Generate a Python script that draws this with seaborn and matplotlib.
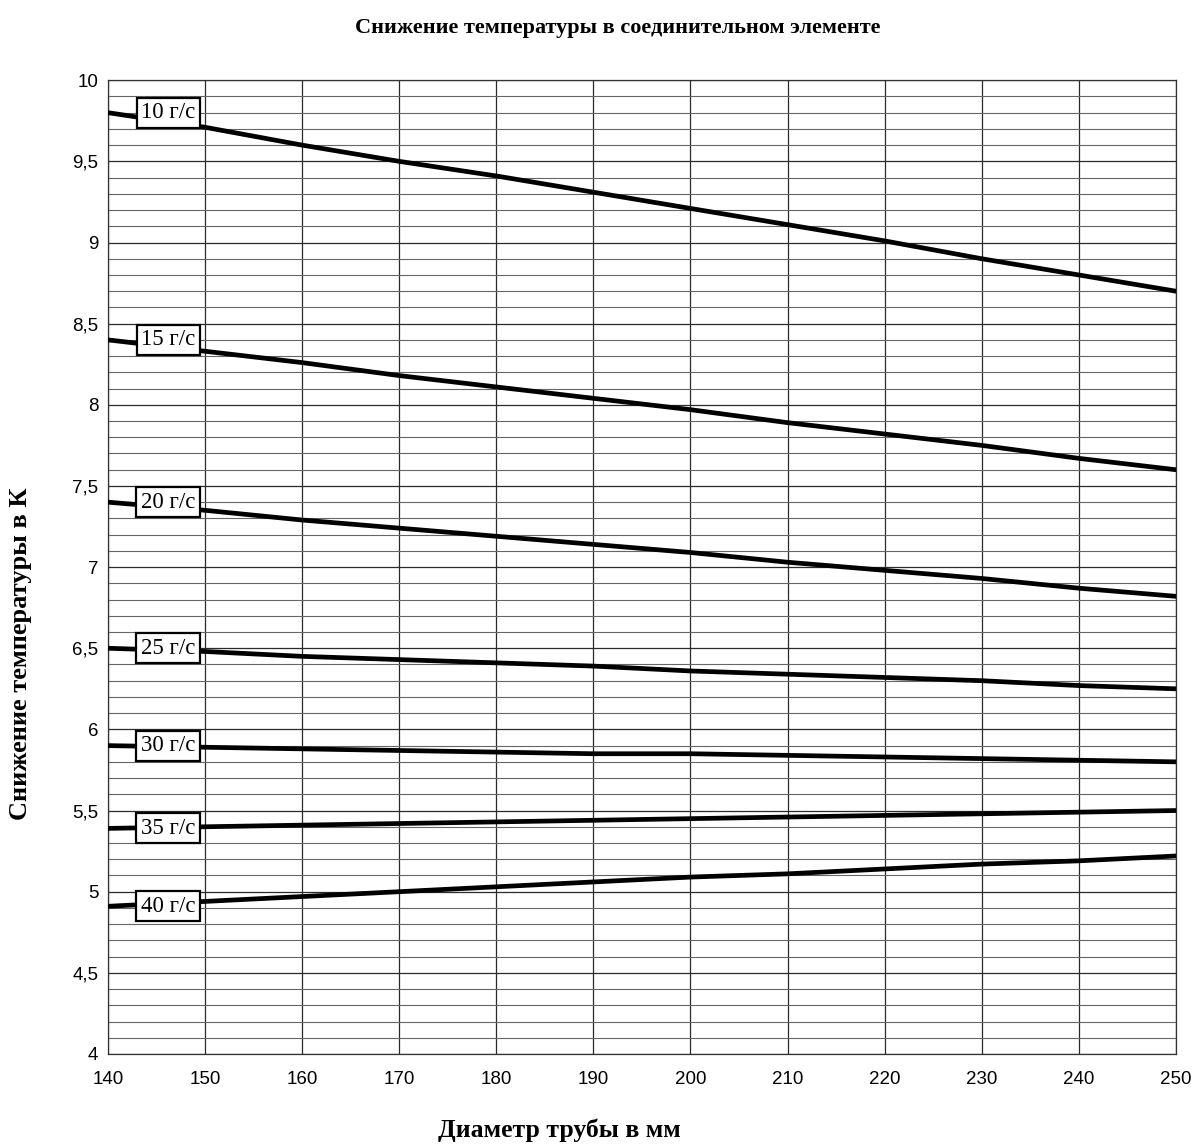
# Снижение температуры в соединительном элементе
# Reconstruction of the chart with seaborn


# Import libraries ............................................................

import numpy as np
import pandas as pd
import seaborn as sns
import matplotlib.pyplot as plt
from matplotlib.ticker import MultipleLocator, FuncFormatter


# Data ........................................................................

diameter = [140, 150, 160, 170, 180, 190, 200, 210, 220, 230, 240, 250]

flow_labels = ["10 г/с", "15 г/с", "20 г/с", "25 г/с", "30 г/с", "35 г/с", "40 г/с"]

drop_10 = [9.80, 9.71, 9.60, 9.50, 9.41, 9.31, 9.21, 9.11, 9.01, 8.90, 8.80, 8.70]
drop_15 = [8.40, 8.33, 8.26, 8.18, 8.11, 8.04, 7.97, 7.89, 7.82, 7.75, 7.67, 7.60]
drop_20 = [7.40, 7.35, 7.29, 7.24, 7.19, 7.14, 7.09, 7.03, 6.98, 6.93, 6.87, 6.82]
drop_25 = [6.50, 6.48, 6.45, 6.43, 6.41, 6.39, 6.36, 6.34, 6.32, 6.30, 6.27, 6.25]
drop_30 = [5.90, 5.89, 5.88, 5.87, 5.86, 5.85, 5.85, 5.84, 5.83, 5.82, 5.81, 5.80]
drop_35 = [5.39, 5.40, 5.41, 5.42, 5.43, 5.44, 5.45, 5.46, 5.47, 5.48, 5.49, 5.50]
drop_40 = [4.91, 4.94, 4.97, 5.00, 5.03, 5.06, 5.09, 5.11, 5.14, 5.17, 5.19, 5.22]

series = [drop_10, drop_15, drop_20, drop_25, drop_30, drop_35, drop_40]

# Long table for seaborn
df = pd.DataFrame({
    "diameter": diameter * len(series),
    "drop": [v for s in series for v in s],
    "flow": [lab for lab in flow_labels for _ in diameter],
})


# Plot ........................................................................

sns.set_style("white")
plt.rcParams["font.family"] = ["Liberation Sans", "DejaVu Sans"]
plt.rcParams["text.color"] = "black"
plt.rcParams["xtick.color"] = "black"
plt.rcParams["ytick.color"] = "black"
serif = ["Liberation Serif", "DejaVu Serif"]

fig = plt.figure(figsize = (11.95, 11.46), dpi = 100)
ax = fig.add_axes([0.0904, 0.0803, 0.8936, 0.8497])

sns.lineplot(data = df, x = "diameter", y = "drop", hue = "flow",
             palette = ["black"] * len(flow_labels), linewidth = 3.4,
             legend = False, ax = ax, zorder = 3)

# Labels on the left of each curve
for lab, s in zip(flow_labels, series):
    ax.text(146.2, s[0], lab, family = serif, fontsize = 16.5,
            ha = "center", va = "center", zorder = 5,
            bbox = dict(boxstyle = "square,pad=0.2", fc = "white", ec = "black", lw = 1.6))

# Axes and grid
ax.set_xlim(140, 250)
ax.set_ylim(4, 10)
ax.xaxis.set_major_locator(MultipleLocator(10))
ax.yaxis.set_major_locator(MultipleLocator(0.5))
ax.yaxis.set_minor_locator(MultipleLocator(0.1))
ax.yaxis.set_major_formatter(FuncFormatter(lambda v, p: f"{v:g}".replace(".", ",")))
ax.grid(True, which = "major", axis = "both", color = "#2a2a2a", lw = 0.9)
ax.grid(True, which = "minor", axis = "y", color = "#666666", lw = 0.8)
ax.tick_params(axis = "both", which = "major", direction = "out", length = 4,
               width = 0.8, color = "#333333", labelcolor = "black",
               labelsize = 13.5, pad = 3)
ax.tick_params(axis = "x", which = "major", pad = 8)
ax.tick_params(axis = "y", which = "minor", length = 0)
for sp in ax.spines.values():
    sp.set_color("#333333")
    sp.set_linewidth(0.9)

ax.set_xlabel("")
ax.set_ylabel("")
fig.text(0.517, 0.976, "Снижение температуры в соединительном элементе",
         family = serif, fontsize = 16, fontweight = "bold", ha = "center", va = "center")
fig.text(0.468, 0.014, "Диаметр трубы в мм", family = serif, fontsize = 18.5,
         fontweight = "bold", ha = "center", va = "center")
fig.text(0.017, 0.43, "Снижение температуры в К", family = serif, fontsize = 19,
         fontweight = "bold", ha = "center", va = "center", rotation = 90)

plt.savefig("out.png", dpi = 100)
